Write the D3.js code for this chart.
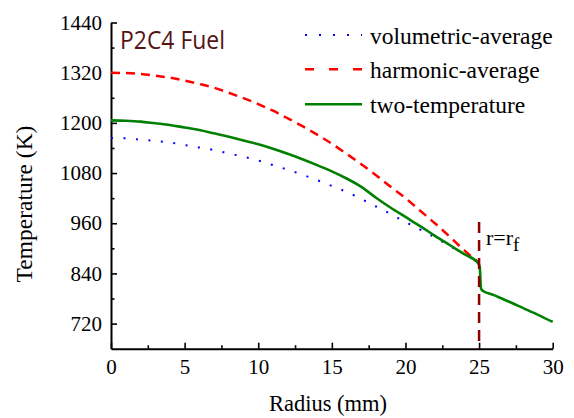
<!DOCTYPE html>
<html>
<head>
<meta charset="utf-8">
<script src="https://cdn.jsdelivr.net/npm/d3@7/dist/d3.min.js"></script>
<style>
  html, body { margin: 0; padding: 0; background: #fff; }
  svg { display: block; }
  .serif { font-family: "Liberation Serif", "DejaVu Serif", serif; }
</style>
</head>
<body>
<svg id="chart" width="574" height="418"></svg>
<script>
// ---- data ----
const xTicks = [0, 5, 10, 15, 20, 25, 30];
const xMinor = [2.5, 7.5, 12.5, 17.5, 22.5, 27.5];
const yTicks = [720, 840, 960, 1080, 1200, 1320, 1440];
const yMinor = [780, 900, 1020, 1140, 1260, 1380];

const radiusFuel = [0,1,2,3,4,5,6,7,8,9,10,11,12,13,14,15,16,17,18,19,20,21,22,23,24,25];
const volumetric = [1164,1163,1160,1157,1153,1147,1141,1135,1127,1119,1110,1099,1088,1076,1063,1049,1035,1018,1000,982,963,945,926,906,886,865];
const harmonic   = [1320,1319,1317,1313,1308,1301,1293,1284,1272,1259,1245,1229,1211,1192,1172,1150,1126,1101,1075,1047,1020,990,960,928,895,865];

const radiusTwo = [0,1,2,3,4,5,6,7,8,9,10,11,12,13,14,15,16,17,18,19,20,21,22,23,24,24.95,25.05,25.12,25.2,26,27,28,29,30];
const twoTemp   = [1206,1205,1203,1199,1195,1189,1183,1175,1167,1158,1149,1138,1126,1113,1099,1084,1067,1047,1021,997,975,953,930,908,886,864,853,806,800,788,773,757,741,724];

const interfaceR = 25;
const legendLabels = ["volumetric-average", "harmonic-average", "two-temperature"];

// ---- layout ----
const svg = d3.select("#chart");
const x = d3.scaleLinear().domain([0, 30]).range([111, 552.7]);
const y = d3.scaleLinear().domain([660, 1440]).range([348.7, 22.5]);

// axes
const gx = svg.append("g").attr("transform", `translate(0,${y(660)})`)
  .call(d3.axisBottom(x).tickValues(xTicks).tickSizeInner(-6).tickSizeOuter(0).tickPadding(10).tickFormat(d3.format("d")));
const gxm = svg.append("g").attr("transform", `translate(0,${y(660)})`)
  .call(d3.axisBottom(x).tickValues(xMinor).tickSizeInner(-3.5).tickSizeOuter(0).tickFormat(""));
const gy = svg.append("g").attr("transform", `translate(${x(0)},0)`)
  .call(d3.axisLeft(y).tickValues(yTicks).tickSizeInner(-6).tickSizeOuter(0).tickPadding(9).tickFormat(d3.format("d")));
const gym = svg.append("g").attr("transform", `translate(${x(0)},0)`)
  .call(d3.axisLeft(y).tickValues(yMinor).tickSizeInner(-3.5).tickSizeOuter(0).tickFormat(""));

[gx, gxm, gy, gym].forEach(g => {
  g.attr("font-family", null).attr("font-size", null).attr("class", "serif");
  g.select(".domain").attr("stroke", "#000").attr("stroke-width", 2);
  g.selectAll(".tick line").attr("stroke", "#000").attr("stroke-width", 1.6);
  g.selectAll(".tick text").attr("fill", "#000").attr("class", "serif").style("font-size", "21px");
});
gxm.select(".domain").remove();
gym.select(".domain").remove();

// axis titles
svg.append("text").attr("class", "serif").attr("x", 328).attr("y", 411).attr("text-anchor", "middle")
  .style("font-size", "22.5px").text("Radius (mm)");
svg.append("text").attr("class", "serif").attr("transform", `translate(32,204) rotate(-90)`).attr("text-anchor", "middle")
  .style("font-size", "23.5px").text("Temperature (K)");

// curves
const lineFuel = d3.line().x((d, i) => x(radiusFuel[i])).y(d => y(d)).curve(d3.curveMonotoneX);
const lineTwo = d3.line().x((d, i) => x(radiusTwo[i])).y(d => y(d)).curve(d3.curveMonotoneX);

svg.append("path").attr("d", lineFuel(volumetric)).attr("fill", "none")
  .attr("stroke", "#0000ff").attr("stroke-width", 2).attr("stroke-dasharray", "2,10.5");
svg.append("path").attr("d", lineFuel(harmonic)).attr("fill", "none")
  .attr("stroke", "#ff0000").attr("stroke-width", 2.5).attr("stroke-dasharray", "9,6");
svg.append("path").attr("d", lineTwo(twoTemp)).attr("fill", "none")
  .attr("stroke", "#008000").attr("stroke-width", 2.6);

// interface line
svg.append("line").attr("x1", x(interfaceR)).attr("x2", x(interfaceR))
  .attr("y1", 222).attr("y2", y(660))
  .attr("stroke", "#8b0000").attr("stroke-width", 2.5).attr("stroke-dasharray", "11,7");
const lbl = svg.append("text").attr("class", "serif").attr("x", 486).attr("y", 244.5)
  .style("font-size", "22px");
lbl.append("tspan").text("r=r");
lbl.append("tspan").attr("dy", 6).style("font-size", "19px").text("f");

// title
svg.append("text").attr("x", 120).attr("y", 49.3).style("font-family", "'Open Sans',sans-serif")
  .style("font-size", "25px").attr("fill", "#561414")
  .attr("textLength", 105).attr("lengthAdjust", "spacingAndGlyphs").text("P2C4 Fuel");

// legend
const legStyles = [
  {stroke: "#0000ff", w: 2, dash: "2,12"},
  {stroke: "#ff0000", w: 2.5, dash: "9,15"},
  {stroke: "#008000", w: 2.6, dash: null}
];
const legY = [35, 69.3, 104.3];
legendLabels.forEach((t, i) => {
  const s = legStyles[i];
  const l = svg.append("line").attr("x1", 305).attr("x2", 362).attr("y1", legY[i]).attr("y2", legY[i])
    .attr("stroke", s.stroke).attr("stroke-width", s.w);
  if (s.dash) l.attr("stroke-dasharray", s.dash);
  svg.append("text").attr("class", "serif").attr("x", 370).attr("y", legY[i] + 8.5)
    .style("font-size", "23.5px").text(t);
});
</script>
</body>
</html>
